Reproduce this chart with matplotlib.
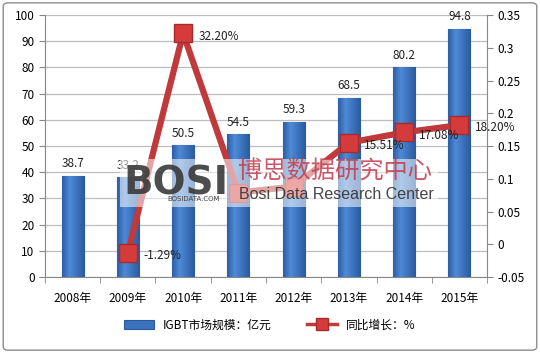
import matplotlib
matplotlib.use("Agg")
import matplotlib.pyplot as plt
from matplotlib.patches import FancyBboxPatch, Rectangle
from matplotlib.colors import LinearSegmentedColormap
import numpy as np

plt.rcParams['font.family'] = ['Noto Sans CJK SC', 'DejaVu Sans']

years = ["2008年", "2009年", "2010年", "2011年", "2012年", "2013年", "2014年", "2015年"]
market = [38.7, 38.2, 50.5, 54.5, 59.3, 68.5, 80.2, 94.8]
market_labels = ["38.7", "33.2", "50.5", "54.5", "59.3", "68.5", "80.2", "94.8"]
growth = [np.nan, -0.0129, 0.3220, 0.0791, 0.0881, 0.1551, 0.1708, 0.1820]
growth_labels = ["", "-1.29%", "32.20%", "", "", "15.51%", "17.08%", "18.20%"]

FS = 8.5

fig = plt.figure(figsize=(5.4, 3.53), dpi=100)
fig.patch.set_facecolor("white")
border = FancyBboxPatch((0.006, 0.008), 0.988, 0.984, boxstyle="round,pad=0,rounding_size=0.01",
                        transform=fig.transFigure, fill=False, edgecolor="#8c8c8c", lw=1.0)
fig.patches.append(border)

ax = fig.add_axes([0.0833, 0.215, 0.8186, 0.7425])
x = np.arange(len(years))
bars = ax.bar(x, market, width=0.4, color="#3b72bd", edgecolor="#2a5a9c", linewidth=0.8, zorder=3)
ax.set_ylim(0, 100)
ax.set_xlim(-0.5, len(years) - 0.5)
cmap = LinearSegmentedColormap.from_list("g", ["#2c5ea6", "#4f8ad6", "#3b72bd", "#2a5a9c"])
grad = np.linspace(0, 1, 64).reshape(1, -1)
for b in bars:
    bx, by = b.get_x(), b.get_y()
    im = ax.imshow(grad, cmap=cmap, aspect="auto", zorder=3.2,
                   extent=(bx, bx + b.get_width(), by, by + b.get_height()))
    im.set_clip_path(b)
ax.set_ylim(0, 100)
ax.set_xlim(-0.5, len(years) - 0.5)
for xi, v, lab in zip(x, market, market_labels):
    ax.text(xi, v + 2.0, lab, ha="center", va="bottom", fontsize=FS, color="#222222", zorder=6)
ax.set_yticks(range(0, 101, 10))
ax.set_xticks(x)
ax.set_xticklabels(years, fontsize=FS)
ax.tick_params(axis="x", length=0, pad=11)
ax.set_xticks(np.arange(-0.5, len(years), 1), minor=True)
ax.tick_params(axis="x", which="minor", length=4, color="#888888")
ax.tick_params(axis="y", labelsize=FS, length=4, color="#888888", direction="out")
ax.grid(axis="y", color="#bdbdbd", lw=0.9, zorder=0)
for s in ["top", "right"]:
    ax.spines[s].set_visible(False)
ax.spines["left"].set_color("#888888")
ax.spines["bottom"].set_color("#888888")

ax2 = ax.twinx()
ax2.set_ylim(-0.05, 0.35)
ax2.set_yticks([-0.05, 0, 0.05, 0.1, 0.15, 0.2, 0.25, 0.3, 0.35])
ax2.set_yticklabels(["-0.05", "0", "0.05", "0.1", "0.15", "0.2", "0.25", "0.3", "0.35"])
ax2.tick_params(axis="y", labelsize=FS, length=4, color="#888888")
for s in ["top", "left", "bottom"]:
    ax2.spines[s].set_visible(False)
ax2.spines["right"].set_color("#888888")
line, = ax2.plot(x, growth, color="#c0393b", lw=4.5, marker="s", markersize=12.5,
                 markerfacecolor="#d63b3b", markeredgecolor="#a82a2a", zorder=5)
for xi, v, lab in zip(x, growth, growth_labels):
    if lab:
        ax2.annotate(lab, (xi, v), xytext=(11, -2), textcoords="offset points",
                     ha="left", va="center", fontsize=FS, color="#222222", zorder=6)

# watermark
fig.patches.append(Rectangle((120/540, 1-207/353), 318/540, 48/353, transform=fig.transFigure,
                             facecolor="white", alpha=0.55, edgecolor="none", zorder=10))
fig.text(123/540, 1-183/353, "BOSI", fontsize=28, fontweight="bold", color="#3a3a3a",
         ha="left", va="center", family="DejaVu Sans", zorder=11, alpha=0.9)
fig.text(167/540, 1-199/353, "BOSIDATA.COM", fontsize=5, color="#444444", ha="left", va="center",
         family="DejaVu Sans", zorder=11)
fig.text(238/540, 1-172/353, "博思数据研究中心", fontsize=17.5, color="#c23b4c", ha="left", va="center",
         zorder=11, alpha=0.85)
fig.text(239/540, 1-194/353, "Bosi Data Research Center", fontsize=11.5, color="#333333", ha="left",
         va="center", family="Liberation Sans", zorder=11, alpha=0.9)

leg = fig.legend([bars, line], ["IGBT市场规模：亿元", "同比增长：%"], loc="center",
                 bbox_to_anchor=(0.5, 1-325/353), ncol=2, frameon=False, fontsize=FS,
                 handlelength=2.5, columnspacing=3, handleheight=0.8, markerscale=0.7)
for h in leg.legend_handles:
    if hasattr(h, "set_linewidth") and not isinstance(h, Rectangle):
        h.set_linewidth(2.5)

fig.savefig("out.png", dpi=100, facecolor="white")
